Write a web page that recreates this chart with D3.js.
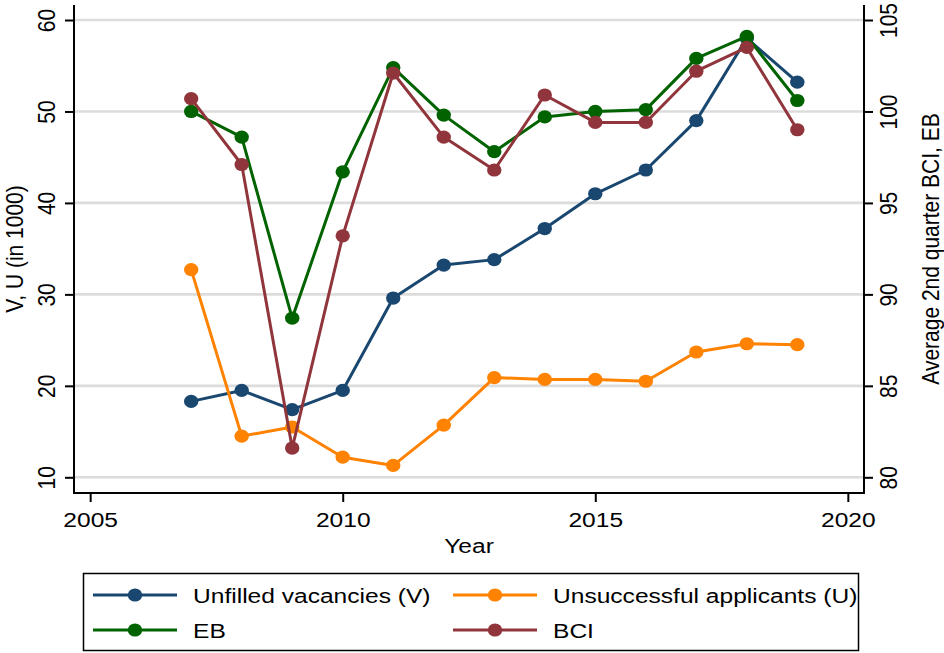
<!DOCTYPE html>
<html>
<head>
<meta charset="utf-8">
<script src="https://cdn.jsdelivr.net/npm/d3@7"></script>
<style>
  html, body { margin: 0; padding: 0; background: #fff; }
  svg { display: block; font-family: "Liberation Sans", Arial, Helvetica, sans-serif; }
</style>
</head>
<body>
<svg id="chart" width="944" height="653"></svg>
<script>
const years = [2007, 2008, 2009, 2010, 2011, 2012, 2013, 2014, 2015, 2016, 2017, 2018, 2019];
const vacancies = [18.3, 19.5, 17.4, 19.5, 29.6, 33.2, 33.8, 37.2, 41.0, 43.6, 49.0, 58.0, 53.2];
const applicants = [32.7, 14.5, 15.5, 12.2, 11.3, 15.7, 20.9, 20.7, 20.7, 20.5, 23.7, 24.6, 24.5];
const eb = [100.0, 98.6, 88.7, 96.7, 102.4, 99.8, 97.8, 99.7, 100.0, 100.1, 102.9, 104.1, 100.6];
const bci = [100.7, 97.1, 81.6, 93.2, 102.1, 98.6, 96.8, 100.9, 99.4, 99.4, 102.2, 103.5, 99.0];

const xTicks = [2005, 2010, 2015, 2020];
const leftTicks = [10, 20, 30, 40, 50, 60];
const rightTicks = [80, 85, 90, 95, 100, 105];

const seriesNames = ["Unfilled vacancies (V)", "Unsuccessful applicants (U)", "EB", "BCI"];
const seriesColors = ["#1a476f", "#ff8200", "#006300", "#90353b"];

const FS = 21, SX = 1.17;

const svg = d3.select("#chart");
const L = 74, R = 864, T = 5, B = 493;

const x = d3.scaleLinear().domain([2004.68, 2020.32]).range([L, R]);
const yL = d3.scaleLinear().domain([10, 60]).range([477.3, 20]);
const yR = d3.scaleLinear().domain([80, 105]).range([477.3, 20]);

// gridlines
svg.append("g").selectAll("line").data(leftTicks).join("line")
  .attr("x1", L).attr("x2", R)
  .attr("y1", d => yL(d)).attr("y2", d => yL(d))
  .attr("stroke", "#dcdcdc").attr("stroke-width", 2.6);

// axes
const axL = svg.append("g").attr("transform", `translate(${L},0)`)
  .call(d3.axisLeft(yL).tickValues(leftTicks).tickSize(9).tickFormat(d3.format("d")));
const axR = svg.append("g").attr("transform", `translate(${R},0)`)
  .call(d3.axisRight(yR).tickValues(rightTicks).tickSize(9).tickFormat(d3.format("d")));
const axB = svg.append("g").attr("transform", `translate(0,${B})`)
  .call(d3.axisBottom(x).tickValues(xTicks).tickSize(9).tickFormat(d3.format("d")));

[axL, axR, axB].forEach(a => {
  a.select(".domain").remove();
  a.selectAll(".tick line").attr("stroke", "#000").attr("stroke-width", 2);
  a.selectAll("text").attr("font-size", FS).attr("fill", "#000")
    .attr("font-family", "Liberation Sans, Arial, sans-serif")
    .attr("x", null).attr("y", null).attr("dy", null)
    .attr("text-anchor", "middle");
});
axB.selectAll(".tick text").attr("transform", `translate(0,34) scale(${SX},1)`);
axL.selectAll(".tick text").attr("transform", `translate(-19,0) rotate(-90) scale(1,${SX})`);
axR.selectAll(".tick text").attr("transform", `translate(33,0) rotate(-90) scale(1,${SX})`);

// axis lines
svg.append("line").attr("x1", L).attr("x2", L).attr("y1", T).attr("y2", B + 1)
  .attr("stroke", "#000").attr("stroke-width", 2);
svg.append("line").attr("x1", R).attr("x2", R).attr("y1", T).attr("y2", B + 1)
  .attr("stroke", "#000").attr("stroke-width", 2);
svg.append("line").attr("x1", L - 1).attr("x2", R + 1).attr("y1", B).attr("y2", B)
  .attr("stroke", "#000").attr("stroke-width", 2);

// axis titles
svg.append("text").attr("transform", `translate(23,${(T + B) / 2}) rotate(-90) scale(1,${SX})`)
  .attr("text-anchor", "middle").attr("font-size", FS).text("V, U (in 1000)");
svg.append("text").attr("transform", `translate(939,${(T + B) / 2}) rotate(-90) scale(1,${SX})`)
  .attr("text-anchor", "middle").attr("font-size", FS).text("Average 2nd quarter BCI, EB");
svg.append("text").attr("transform", `translate(${(L + R) / 2},553) scale(${SX},1)`)
  .attr("text-anchor", "middle").attr("font-size", FS).text("Year");

// series
const series = [
  { vals: vacancies, y: yL },
  { vals: applicants, y: yL },
  { vals: eb, y: yR },
  { vals: bci, y: yR }
];
series.forEach((s, i) => {
  const pts = years.map((yr, j) => [yr, s.vals[j]]);
  const line = d3.line().x(d => x(d[0])).y(d => s.y(d[1]));
  const g = svg.append("g");
  g.append("path").datum(pts).attr("d", line)
    .attr("fill", "none").attr("stroke", seriesColors[i]).attr("stroke-width", 3)
    .attr("stroke-linejoin", "round");
  g.selectAll("ellipse").data(pts).join("ellipse")
    .attr("cx", d => x(d[0])).attr("cy", d => s.y(d[1])).attr("rx", 7.2).attr("ry", 6.6)
    .attr("fill", seriesColors[i]);
});

// legend
const lg = svg.append("g");
lg.append("rect").attr("x", 83.5).attr("y", 573.5).attr("width", 775).attr("height", 77)
  .attr("fill", "#fff").attr("stroke", "#000").attr("stroke-width", 1.5);
const legPos = [
  { x0: 93, y: 595 }, { x0: 453, y: 595 },
  { x0: 93, y: 630 }, { x0: 453, y: 630 }
];
seriesNames.forEach((name, i) => {
  const p = legPos[i];
  lg.append("line").attr("x1", p.x0).attr("x2", p.x0 + 84).attr("y1", p.y).attr("y2", p.y)
    .attr("stroke", seriesColors[i]).attr("stroke-width", 3);
  lg.append("ellipse").attr("cx", p.x0 + 42).attr("cy", p.y).attr("rx", 7.2).attr("ry", 6.6)
    .attr("fill", seriesColors[i]);
  lg.append("text").attr("transform", `translate(${p.x0 + 100},${p.y + 7.5}) scale(${SX},1)`)
    .attr("font-size", FS).text(name);
});
</script>
</body>
</html>
